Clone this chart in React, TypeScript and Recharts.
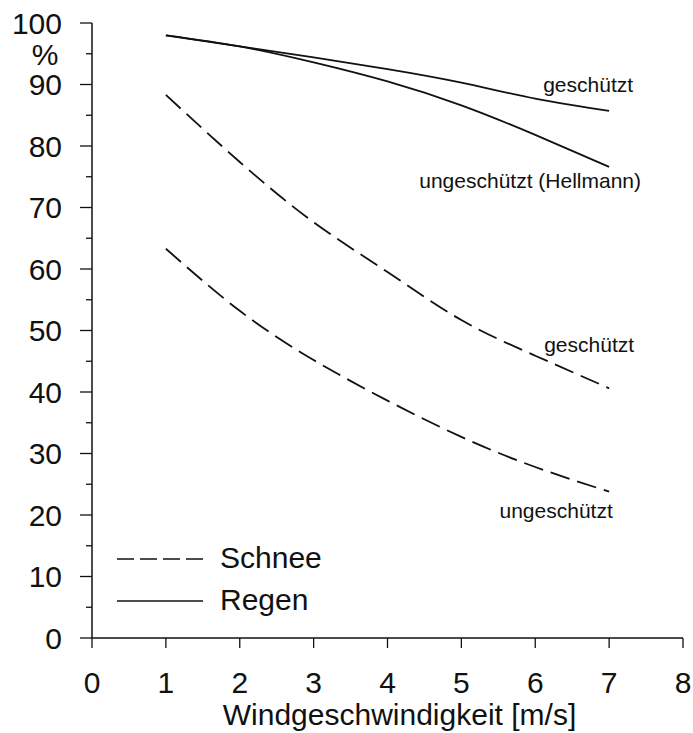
import React from 'react';
import { LineChart, Line, XAxis, YAxis, Legend } from 'recharts';

const windSpeeds = [1, 2, 3, 4, 5, 6, 7];
const regenGeschuetzt = [98, 96.2, 94.4, 92.5, 90.3, 87.7, 85.7];
const regenUngeschuetzt = [98, 96.2, 93.6, 90.5, 86.6, 81.8, 76.6];
const schneeGeschuetzt = [88.3, 77.4, 67.6, 59.5, 51.7, 45.9, 40.6];
const schneeUngeschuetzt = [63.3, 53.2, 45.2, 38.6, 32.7, 27.8, 23.8];

const xTicks = [0, 1, 2, 3, 4, 5, 6, 7, 8];
const yTicks = [0, 5, 10, 15, 20, 25, 30, 35, 40, 45, 50, 55, 60, 65, 70, 75, 80, 85, 90, 95, 100];
const xAxisTitle = 'Windgeschwindigkeit [m/s]';
const yUnit = '%';
const legendItems = [
  { label: 'Schnee', dashed: true },
  { label: 'Regen', dashed: false },
];

const FONT = '"Liberation Sans", Arial, sans-serif';
const INK = '#111';
const DASH = '20 8';

const data = windSpeeds.map((x, i) => ({
  x,
  regenG: regenGeschuetzt[i],
  regenU: regenUngeschuetzt[i],
  schneeG: schneeGeschuetzt[i],
  schneeU: schneeUngeschuetzt[i],
}));

const lastIndex = windSpeeds.length - 1;

const endLabel = (text: string, dx: number, dy: number) => (props: any) => {
  const { x, y, index } = props;
  if (index !== lastIndex) return <g />;
  return (
    <text x={x + dx} y={y + dy} textAnchor="middle" fontSize={21} fill={INK} fontFamily={FONT}>
      {text}
    </text>
  );
};

const YTick = (props: any) => {
  const { x, y, payload } = props;
  const v = payload.value;
  const major = v % 10 === 0;
  return (
    <g>
      <line x1={x - (major ? 12 : 6)} x2={x} y1={y} y2={y} stroke={INK} strokeWidth={1.3} />
      {major && (
        <text x={x - 30} y={y} dy="0.36em" textAnchor="end" fontSize={30} fill={INK} fontFamily={FONT}>
          {v}
        </text>
      )}
      {v === 100 && (
        <text x={x - 47} y={y + 42} textAnchor="middle" fontSize={30} fill={INK} fontFamily={FONT}>
          {yUnit}
        </text>
      )}
    </g>
  );
};

const LegendContent = () => (
  <svg width={260} height={95} style={{ display: 'block' }}>
    {legendItems.map((it, i) => (
      <g key={it.label}>
        <line
          x1={0}
          x2={86}
          y1={29 + i * 42}
          y2={29 + i * 42}
          stroke={INK}
          strokeWidth={1.6}
          strokeDasharray={it.dashed ? '17 6' : undefined}
        />
        <text x={103} y={38 + i * 42} fontSize={30} fill={INK} fontFamily={FONT}>
          {it.label}
        </text>
      </g>
    ))}
  </svg>
);

export default function App() {
  return (
    <div style={{ position: 'absolute', left: 0, top: 0, background: '#fff', fontFamily: FONT }}>
      <LineChart width={693} height={733} data={data} margin={{ top: 23, right: 10, bottom: 0, left: 0 }}>
        <XAxis
          xAxisId="top"
          orientation="top"
          type="number"
          domain={[0, 8]}
          dataKey="x"
          height={0}
          tick={false}
          tickLine={false}
          axisLine={{ stroke: INK, strokeWidth: 1.5 }}
        />
        <YAxis
          yAxisId="right"
          orientation="right"
          type="number"
          domain={[0, 100]}
          width={0}
          tick={false}
          tickLine={false}
          axisLine={{ stroke: '#8a8a8a', strokeWidth: 1 }}
        />
        <XAxis
          type="number"
          dataKey="x"
          domain={[0, 8]}
          ticks={xTicks}
          interval={0}
          height={95}
          tickSize={10}
          tickMargin={24}
          axisLine={{ stroke: INK, strokeWidth: 1.5 }}
          tickLine={{ stroke: INK, strokeWidth: 1.3 }}
          tick={{ fontSize: 30, fill: INK, fontFamily: FONT }}
          label={{
            value: xAxisTitle,
            position: 'insideBottom',
            offset: 8,
            dx: 12,
            fontSize: 30,
            fill: INK,
            fontFamily: FONT,
          }}
        />
        <YAxis
          type="number"
          domain={[0, 100]}
          ticks={yTicks}
          interval={0}
          width={92}
          tickSize={0}
          tickMargin={0}
          tickLine={false}
          axisLine={{ stroke: INK, strokeWidth: 1.5 }}
          tick={<YTick />}
        />
        <Legend
          layout="vertical"
          align="center"
          verticalAlign="middle"
          content={<LegendContent />}
          wrapperStyle={{ position: 'absolute', left: 117, top: 530, width: 260, height: 95 }}
        />
        <Line
          type="natural"
          dataKey="regenG"
          stroke={INK}
          strokeWidth={1.8}
          dot={false}
          isAnimationActive={false}
          label={endLabel('geschützt', -21, -19)}
        />
        <Line
          type="natural"
          dataKey="regenU"
          stroke={INK}
          strokeWidth={1.8}
          dot={false}
          isAnimationActive={false}
          label={endLabel('ungeschützt (Hellmann)', -79, 21)}
        />
        <Line
          type="natural"
          dataKey="schneeG"
          stroke={INK}
          strokeWidth={1.8}
          strokeDasharray={DASH}
          dot={false}
          isAnimationActive={false}
          label={endLabel('geschützt', -20, -36)}
        />
        <Line
          type="natural"
          dataKey="schneeU"
          stroke={INK}
          strokeWidth={1.8}
          strokeDasharray={DASH}
          dot={false}
          isAnimationActive={false}
          label={endLabel('ungeschützt', -53, 26)}
        />
      </LineChart>
    </div>
  );
}
